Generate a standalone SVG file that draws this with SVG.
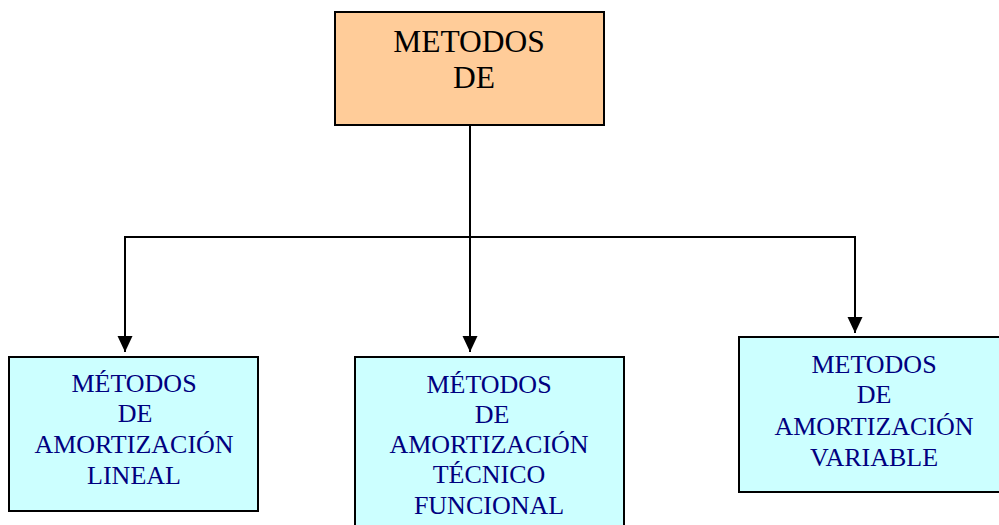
<svg xmlns="http://www.w3.org/2000/svg" width="999" height="525" viewBox="0 0 999 525">
<style>
.box{stroke:#000;stroke-width:2}
.top{fill:#FFCC99}
.sub{fill:#CCFFFF}
.t1{font-family:"Liberation Serif","Times New Roman",serif;font-size:31.5px;fill:#000;text-anchor:middle}
.t2{font-family:"Liberation Serif","Times New Roman",serif;font-size:26px;fill:#000080;text-anchor:middle}
.ln{stroke:#000;stroke-width:2;fill:none}
</style>
<defs>
<marker id="ah" markerUnits="userSpaceOnUse" markerWidth="16" markerHeight="16" refX="16" refY="8" orient="auto">
<path d="M0,0.5 L16,8 L0,15.5 Z" fill="#000"/>
</marker>
</defs>
<rect width="999" height="525" fill="#fff"/>
<g id="connectors">
<line class="ln" x1="470" y1="122" x2="470" y2="352" marker-end="url(#ah)"/>
<polyline class="ln" points="470,237 125,237 125,352" marker-end="url(#ah)"/>
<polyline class="ln" points="470,237 855,237 855,333" marker-end="url(#ah)"/>
</g>
<g id="node-top">
<rect class="box top" x="335" y="12" width="269" height="113"/>
<text class="t1" x="469" y="52">METODOS</text>
<text class="t1" x="474" y="88">DE</text>
</g>
<g id="node-lineal">
<rect class="box sub" x="9" y="357" width="249" height="154"/>
<text class="t2" x="134" y="392">MÉTODOS</text>
<text class="t2" x="135" y="422">DE</text>
<text class="t2" x="134" y="453">AMORTIZACIÓN</text>
<text class="t2" x="134" y="484">LINEAL</text>
</g>
<g id="node-tecnico">
<rect class="box sub" x="355" y="357" width="269" height="180"/>
<text class="t2" x="489" y="393">MÉTODOS</text>
<text class="t2" x="492" y="423">DE</text>
<text class="t2" x="489" y="453">AMORTIZACIÓN</text>
<text class="t2" x="489" y="483">TÉCNICO</text>
<text class="t2" x="489" y="514">FUNCIONAL</text>
</g>
<g id="node-variable">
<rect class="box sub" x="739" y="337" width="280" height="155"/>
<text class="t2" x="874" y="373">METODOS</text>
<text class="t2" x="874" y="403">DE</text>
<text class="t2" x="874" y="435">AMORTIZACIÓN</text>
<text class="t2" x="874" y="466">VARIABLE</text>
</g>
</svg>
